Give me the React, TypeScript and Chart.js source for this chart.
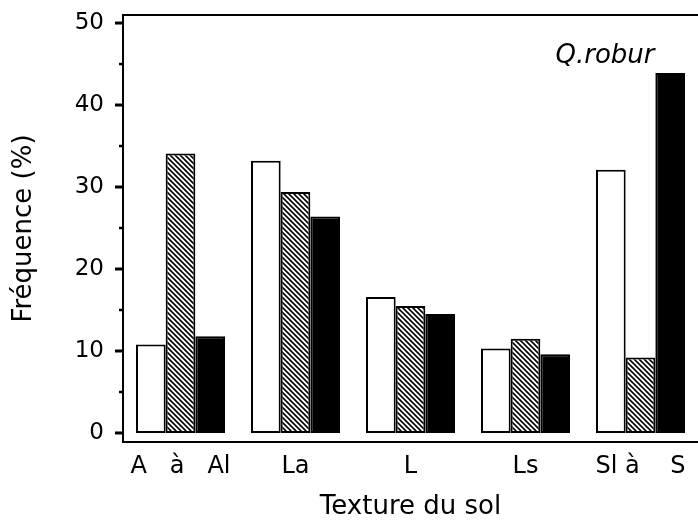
import React, { useEffect, useRef } from "react";
import { Chart, registerables } from "chart.js";

Chart.register(...registerables);

const categories = ["A   à   Al", "La", "L", "Ls", "Sl à    S"];
const whiteSeries = [10.8, 33.2, 16.6, 10.3, 32.1];
const hatchedSeries = [34.1, 29.4, 15.5, 11.5, 9.2];
const blackSeries = [11.8, 26.4, 14.5, 9.6, 43.9];
const majorTicks = [0, 10, 20, 30, 40, 50];
const minorTicks = [5, 15, 25, 35, 45];

const FONT = "'DejaVu Sans', 'Liberation Sans', sans-serif";

function makeHatch(): CanvasPattern | string {
  const s = 5;
  const c = document.createElement("canvas");
  c.width = s;
  c.height = s;
  const ctx = c.getContext("2d");
  if (!ctx) return "#888";
  ctx.fillStyle = "#fff";
  ctx.fillRect(0, 0, s, s);
  ctx.strokeStyle = "#000";
  ctx.lineWidth = 1.6;
  ctx.beginPath();
  ctx.moveTo(-1, -1);
  ctx.lineTo(s + 1, s + 1);
  ctx.moveTo(-1, s - 1);
  ctx.lineTo(1, s + 1);
  ctx.moveTo(s - 1, -1);
  ctx.lineTo(s + 1, 1);
  ctx.stroke();
  return ctx.createPattern(c, "repeat") || "#888";
}

const framePlugin = {
  id: "frame",
  afterDraw(chart: any) {
    const { ctx, chartArea, scales } = chart;
    const y = scales.y;
    ctx.save();
    ctx.strokeStyle = "#000";
    ctx.lineWidth = 2;
    ctx.beginPath();
    ctx.moveTo(chartArea.left - 1, chartArea.top);
    ctx.lineTo(chartArea.right + 2, chartArea.top);
    ctx.stroke();
    majorTicks.forEach((v) => {
      const py = y.getPixelForValue(v);
      ctx.lineWidth = 3;
      ctx.beginPath();
      ctx.moveTo(chartArea.left - 8, py);
      ctx.lineTo(chartArea.left, py);
      ctx.stroke();
    });
    minorTicks.forEach((v) => {
      const py = y.getPixelForValue(v);
      ctx.lineWidth = 2.5;
      ctx.beginPath();
      ctx.moveTo(chartArea.left - 4, py);
      ctx.lineTo(chartArea.left, py);
      ctx.stroke();
    });
    ctx.fillStyle = "#000";
    ctx.font = `italic 26px ${FONT}`;
    ctx.textAlign = "center";
    ctx.textBaseline = "alphabetic";
    ctx.fillText("Q.robur", chartArea.right - 93, chartArea.top + 48);
    ctx.restore();
  },
};

export default function App() {
  const ref = useRef<HTMLCanvasElement>(null);
  useEffect(() => {
    if (!ref.current) return;
    Chart.defaults.color = "#000";
    const hatch = makeHatch();
    const chart = new Chart(ref.current, {
      type: "bar",
      data: {
        labels: categories,
        datasets: [
          {
            label: "blanc",
            data: whiteSeries,
            backgroundColor: "#fff",
            borderColor: "#000",
            borderWidth: 2,
            borderSkipped: false,
          },
          {
            label: "hachuré",
            data: hatchedSeries,
            backgroundColor: hatch as any,
            borderColor: "#000",
            borderWidth: 2,
            borderSkipped: false,
          },
          {
            label: "noir",
            data: blackSeries,
            backgroundColor: "#000",
            borderColor: "#000",
            borderWidth: 2,
            borderSkipped: false,
          },
        ],
      },
      options: {
        responsive: false,
        animation: false,
        layout: { padding: { top: 15, right: 0, left: 0, bottom: 0 } },
        plugins: {
          legend: { display: false },
          tooltip: { enabled: false },
        },
        datasets: {
          bar: { categoryPercentage: 0.774, barPercentage: 1.0 },
        },
        scales: {
          x: {
            grid: { display: false, drawTicks: false },
            border: { display: true, color: "#000", width: 2 },
            ticks: {
              font: { family: FONT, size: 24 },
              color: "#000",
              padding: 10,
              maxRotation: 0,
              autoSkip: false,
            },
            title: {
              display: true,
              text: "Texture du sol",
              font: { family: FONT, size: 26, lineHeight: 1 },
              color: "#000",
              padding: { top: 0, bottom: 0 },
            },
            afterFit(scale: any) {
              scale.height = 78;
              scale.paddingLeft = 0;
              scale.paddingRight = 0;
            },
          },
          y: {
            min: -1.1,
            max: 50.98,
            grid: { display: false, drawTicks: false },
            border: { display: true, color: "#000", width: 2 },
            afterBuildTicks(scale: any) {
              scale.ticks = majorTicks.map((v) => ({ value: v }));
            },
            ticks: {
              font: { family: FONT, size: 23 },
              color: "#000",
              padding: 19,
              autoSkip: false,
            },
            title: {
              display: true,
              text: "Fréquence (%)",
              font: { family: FONT, size: 26, lineHeight: 1 },
              color: "#000",
              padding: { top: 11, bottom: 0 },
            },
            afterFit(scale: any) {
              scale.width = 123;
              scale.paddingTop = 0;
              scale.paddingBottom = 0;
            },
          },
        },
      },
      plugins: [framePlugin],
    });
    return () => chart.destroy();
  }, []);
  return (
    <div style={{ position: "absolute", left: 0, top: 0, width: 698, height: 520, background: "#fff" }}>
      <canvas ref={ref} width={698} height={520} style={{ display: "block" }} />
    </div>
  );
}
